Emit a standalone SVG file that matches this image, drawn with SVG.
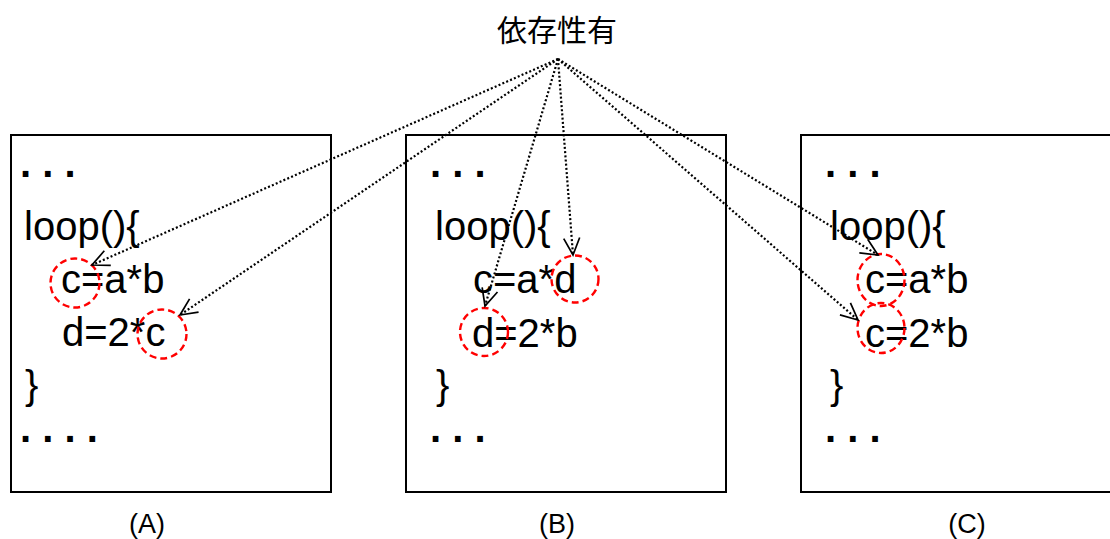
<svg xmlns="http://www.w3.org/2000/svg" width="1110" height="539" viewBox="0 0 1110 539">
  <style>
    .box { fill: #fff; stroke: #000; stroke-width: 2; }
    .code { font-family: "Liberation Sans", Arial, sans-serif; font-size: 40px; fill: #000; }
    .dots { font-family: "Liberation Sans", Arial, sans-serif; font-size: 40px; font-weight: bold; fill: #000; }
    .lbl { font-family: "Liberation Sans", Arial, sans-serif; font-size: 27px; fill: #000; text-anchor: middle; }
    .title { font-family: "Liberation Sans", "Noto Sans CJK JP", sans-serif; font-size: 30px; fill: #000; text-anchor: middle; }
    .mark { fill: none; stroke: #f00; stroke-width: 2.4; stroke-dasharray: 7 4; }
    .dep { fill: none; stroke: #000; stroke-width: 2.2; stroke-dasharray: 2 2.2; marker-end: url(#open); }
  </style>
  <defs>
    <marker id="open" markerUnits="userSpaceOnUse" markerWidth="22" markerHeight="18" refX="18" refY="8" orient="auto" overflow="visible">
      <path d="M1,0 L18,8 L1,16" fill="none" stroke="#000" stroke-width="1.7" stroke-dasharray="none"/>
    </marker>
  </defs>
  <rect width="1110" height="539" fill="#fff"/>

  <g id="title">
    <text class="title" x="557" y="41">依存性有</text>
  </g>

  <g id="nodeA">
    <rect class="box" x="11" y="135" width="320" height="357"/>
    <text class="dots" x="20" y="177">. . .</text>
    <text class="code" x="24" y="240">loop(){</text>
    <text class="code" x="61" y="293">c=a*b</text>
    <text class="code" x="62" y="346">d=2*c</text>
    <text class="code" x="25" y="399">}</text>
    <text class="dots" x="20" y="442">. . . .</text>
    <circle class="mark" cx="75" cy="283" r="24.5"/>
    <circle class="mark" cx="162" cy="334" r="24.5"/>
  </g>

  <g id="nodeB">
    <rect class="box" x="406" y="135" width="320" height="357"/>
    <text class="dots" x="430" y="177">. . .</text>
    <text class="code" x="435" y="240">loop(){</text>
    <text class="code" x="473" y="293">c=a*d</text>
    <text class="code" x="472" y="347">d=2*b</text>
    <text class="code" x="436" y="399">}</text>
    <text class="dots" x="430" y="442">. . .</text>
    <circle class="mark" cx="575" cy="279" r="23.5"/>
    <circle class="mark" cx="484" cy="332" r="24"/>
  </g>

  <g id="nodeC">
    <rect class="box" x="801" y="135" width="320" height="357"/>
    <text class="dots" x="825" y="177">. . .</text>
    <text class="code" x="830" y="240">loop(){</text>
    <text class="code" x="865" y="293">c=a*b</text>
    <text class="code" x="865" y="347">c=2*b</text>
    <text class="code" x="830" y="399">}</text>
    <text class="dots" x="825" y="442">. . .</text>
    <ellipse class="mark" cx="881" cy="280" rx="23.5" ry="26"/>
    <ellipse class="mark" cx="881" cy="328" rx="23.5" ry="25"/>
  </g>

  <g id="connectors">
    <line class="dep" x1="558" y1="59" x2="92" y2="265"/>
    <line class="dep" x1="558" y1="59" x2="180" y2="315"/>
    <line class="dep" x1="558" y1="59" x2="485" y2="306"/>
    <line class="dep" x1="558" y1="59" x2="573" y2="255"/>
    <line class="dep" x1="558" y1="59" x2="878" y2="255"/>
    <line class="dep" x1="558" y1="59" x2="858" y2="320"/>
  </g>

  <g id="labels">
    <text class="lbl" x="147" y="533">(A)</text>
    <text class="lbl" x="557" y="533">(B)</text>
    <text class="lbl" x="967" y="533">(C)</text>
  </g>
</svg>
